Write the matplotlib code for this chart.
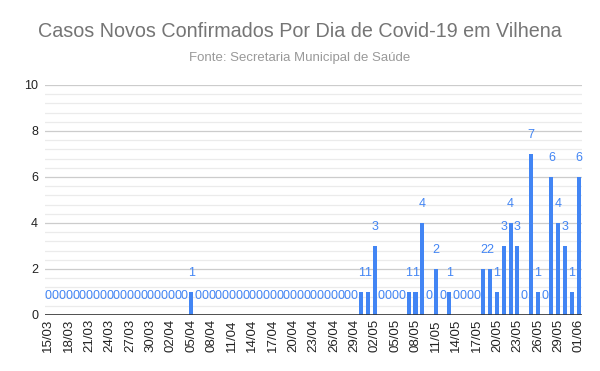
import numpy as np
import matplotlib
matplotlib.use("Agg")
import matplotlib.pyplot as plt
from matplotlib.ticker import MultipleLocator

plt.rcParams['font.family'] = ['Liberation Sans', 'DejaVu Sans']

# daily new cases, 15/03 .. 01/06
dates = ['15/03', '16/03', '17/03', '18/03', '19/03', '20/03', '21/03', '22/03', '23/03', '24/03',
         '25/03', '26/03', '27/03', '28/03', '29/03', '30/03', '31/03',
         '01/04', '02/04', '03/04', '04/04', '05/04', '06/04', '07/04', '08/04', '09/04', '10/04',
         '11/04', '12/04', '13/04', '14/04', '15/04', '16/04', '17/04', '18/04', '19/04', '20/04',
         '21/04', '22/04', '23/04', '24/04', '25/04', '26/04', '27/04', '28/04', '29/04', '30/04',
         '01/05', '02/05', '03/05', '04/05', '05/05', '06/05', '07/05', '08/05', '09/05', '10/05',
         '11/05', '12/05', '13/05', '14/05', '15/05', '16/05', '17/05', '18/05', '19/05', '20/05',
         '21/05', '22/05', '23/05', '24/05', '25/05', '26/05', '27/05', '28/05', '29/05', '30/05',
         '31/05', '01/06']
cases = [0, 0, 0, 0, 0, 0, 0, 0, 0, 0,
         0, 0, 0, 0, 0, 0, 0,
         0, 0, 0, 0, 1, 0, 0, 0, 0, 0,
         0, 0, 0, 0, 0, 0, 0, 0, 0, 0,
         0, 0, 0, 0, 0, 0, 0, 0, 0, 1,
         1, 3, 0, 0, 0, 0, 1, 1, 4, 0,
         2, 0, 1, 0, 0, 0, 0, 2, 2, 1,
         3, 4, 3, 0, 7, 1, 0, 6, 4, 3,
         1, 6]

blue = '#4285f4'
x = np.arange(len(dates))

fig = plt.figure(figsize=(6, 3.71), dpi=100)
ax = fig.add_axes([0.075, 0.151, 0.895, 0.62])

ax.bar(x, cases, width=0.6, color=blue, zorder=3)
for xi, v in zip(x, cases):
    ax.annotate(str(v), (xi, v), xytext=(0, 14), textcoords='offset points',
                ha='center', va='center', fontsize=9, color=blue, zorder=4)

ax.set_xlim(-0.5, len(dates) - 0.5)
ax.set_ylim(0, 10)
ax.yaxis.set_major_locator(MultipleLocator(2))
ax.yaxis.set_minor_locator(MultipleLocator(0.4))
ax.grid(which='major', axis='y', color='#cccccc', linewidth=0.9, zorder=0)
ax.grid(which='minor', axis='y', color='#ebebeb', linewidth=0.9, zorder=0)
ax.axhline(0, color='#333333', linewidth=1.2, zorder=5)

ax.set_xticks(x[::3])
ax.set_xticklabels(dates[::3], rotation=90, fontsize=9.5, color='#222222')
ax.tick_params(axis='y', labelsize=9, labelcolor='#222222', length=0, pad=5)
ax.tick_params(axis='x', length=0, pad=3)
ax.tick_params(axis='y', which='minor', length=0)
for s in ax.spines.values():
    s.set_visible(False)

fig.text(0.5, 0.914, 'Casos Novos Confirmados Por Dia de Covid-19 em Vilhena',
         ha='center', va='center', fontsize=14.2, color='#757575')
fig.text(0.5, 0.844, 'Fonte: Secretaria Municipal de Saúde',
         ha='center', va='center', fontsize=9.5, color='#999999')

fig.savefig('out.png', dpi=100)
